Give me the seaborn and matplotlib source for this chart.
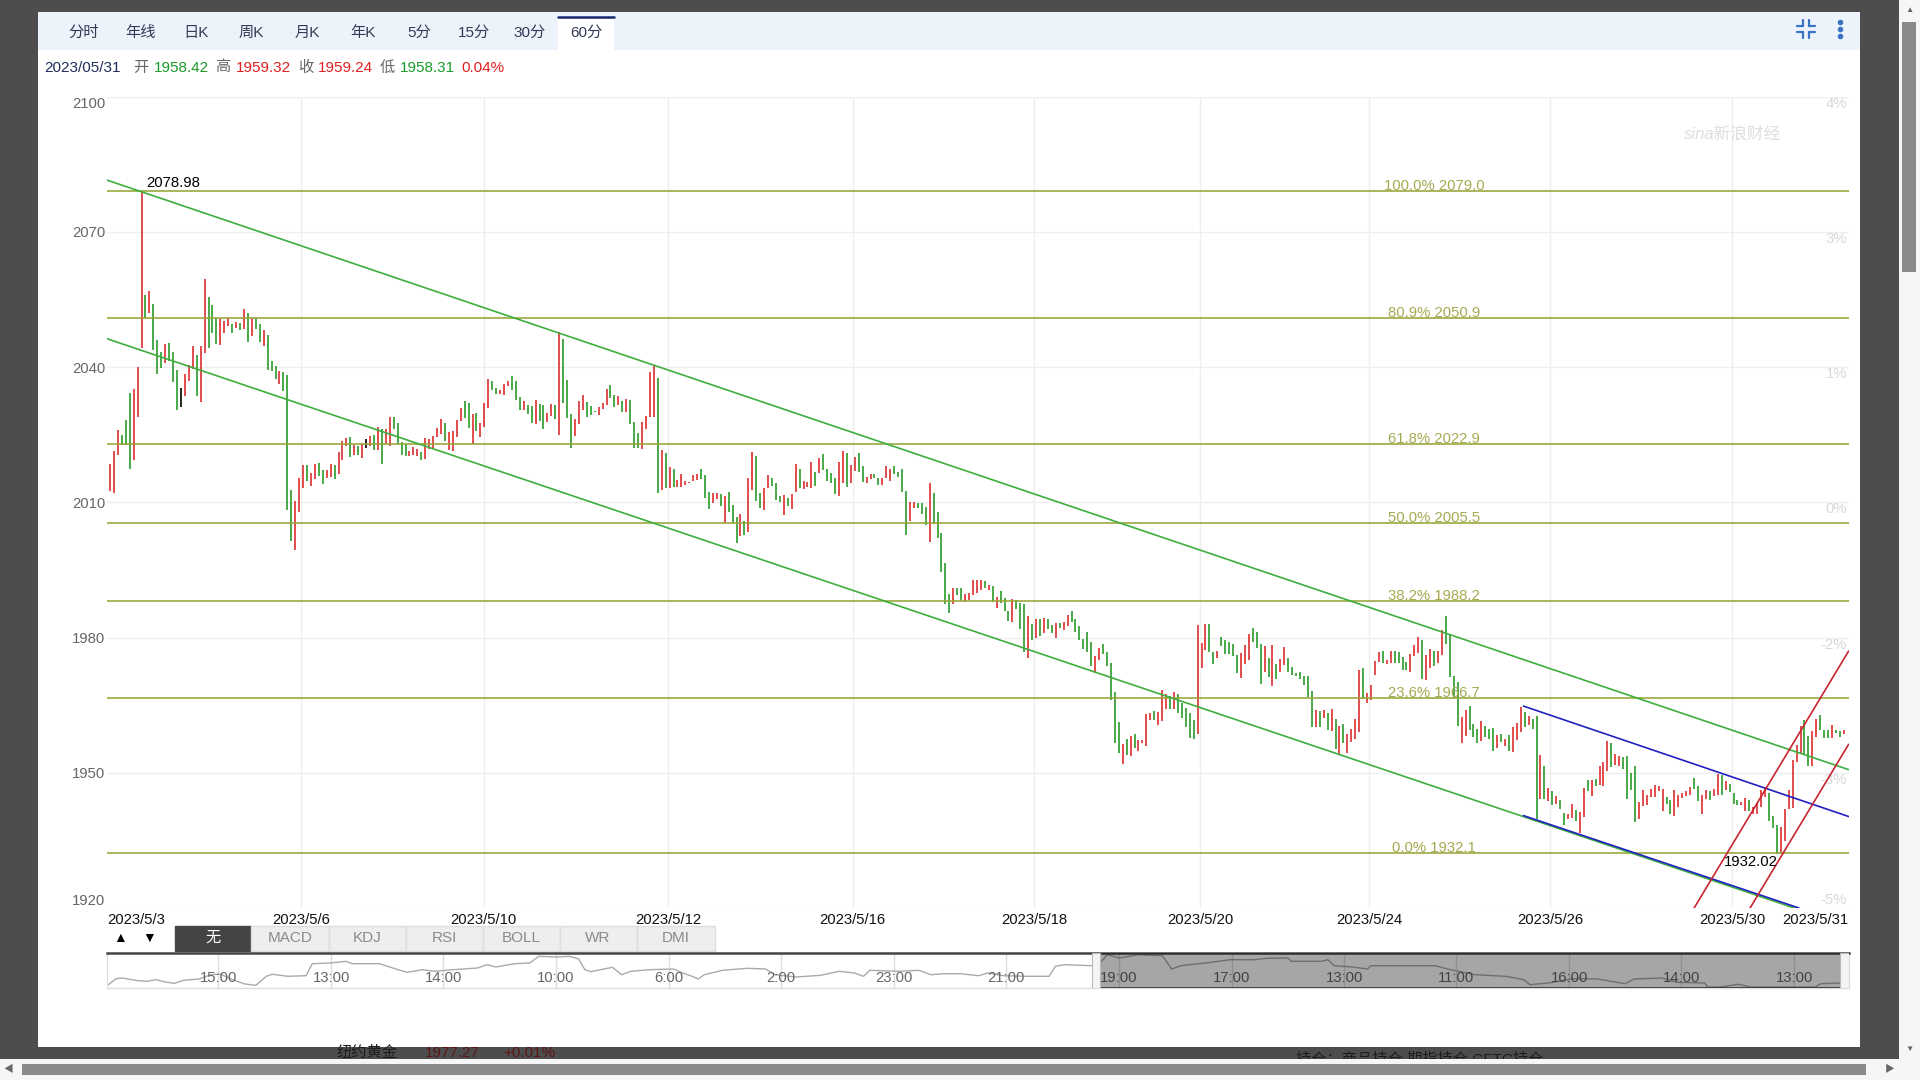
import matplotlib
matplotlib.use("Agg")
import matplotlib.pyplot as plt
from matplotlib.patches import Rectangle
import numpy as np
import pandas as pd
import seaborn as sns

# 60 min bars, r = up, g = down, k = flat
bar_high = [
    2018.5, 2021.5, 2026.1, 2025.0, 2028.2, 2034.3, 2035.2, 2040.0, 2079.0, 2056.0,
    2057.0, 2054.0, 2046.1, 2043.4, 2045.2, 2045.3, 2043.3, 2039.3, 2035.4, 2038.4,
    2040.5, 2044.7, 2042.8, 2044.6, 2059.5, 2055.6, 2053.7, 2050.8, 2050.6, 2050.2,
    2050.8, 2049.6, 2050.0, 2049.8, 2053.0, 2052.0, 2050.8, 2051.0, 2049.5, 2048.2,
    2047.2, 2041.3, 2040.2, 2039.1, 2038.9, 2038.2, 2012.8, 2010.2, 2015.3, 2018.3,
    2018.2, 2016.5, 2018.5, 2018.7, 2017.2, 2017.2, 2018.4, 2018.2, 2021.1, 2023.7,
    2024.3, 2024.5, 2022.8, 2022.6, 2023.0, 2024.1, 2024.8, 2025.0, 2026.7, 2026.3,
    2026.3, 2029.0, 2029.0, 2027.6, 2023.3, 2023.0,
    2021.3, 2022.2, 2021.8, 2021.2, 2024.3, 2024.1, 2024.8, 2026.5, 2028.5, 2027.6,
    2025.6, 2025.9, 2028.3, 2031.0, 2032.4, 2032.0, 2029.6, 2029.8, 2027.5, 2032.1,
    2037.4, 2036.9, 2035.4, 2035.0, 2036.3, 2037.0, 2038.0, 2037.0, 2033.3, 2032.4,
    2031.5, 2031.4, 2032.6, 2031.8, 2031.7, 2029.8, 2031.8, 2031.5, 2047.8, 2046.3,
    2037.2, 2029.6, 2028.5, 2032.4, 2033.8, 2032.3, 2031.4, 2030.2, 2031.2, 2032.0,
    2035.2, 2036.1, 2033.9, 2033.5, 2032.4, 2033.0, 2032.6, 2027.9, 2025.4, 2027.9,
    2029.2, 2038.9, 2040.4, 2037.5, 2021.7, 2020.9, 2017.9, 2017.3, 2015.0, 2016.3,
    2014.8, 2014.5, 2016.1, 2016.3,
    2017.4, 2016.1, 2012.4, 2012.1, 2012.1, 2011.8, 2011.3, 2012.3, 2009.5, 2006.8,
    2007.4, 2005.9, 2015.5, 2021.2, 2020.2, 2012.0, 2013.2, 2016.1, 2015.4, 2014.3,
    2011.3, 2011.7, 2010.9, 2011.8, 2018.6, 2017.5, 2014.7, 2014.5, 2018.9, 2016.7,
    2019.8, 2020.7, 2017.4, 2016.6, 2015.5, 2019.0, 2021.5, 2020.9, 2018.3, 2020.0,
    2020.9, 2018.1, 2015.7, 2016.3, 2016.4, 2015.5, 2015.4, 2018.1, 2017.3, 2018.0,
    2016.8, 2017.3, 2012.6, 2010.1, 2010.1, 2009.8, 2009.8, 2008.9, 2014.3, 2012.1,
    2007.8, 2003.3, 1996.6, 1989.6, 1990.9, 1990.9, 1990.9, 1989.6, 1989.8, 1992.7,
    1992.7, 1992.7, 1992.6, 1991.7, 1991.5, 1989.1,
    1990.4, 1988.7, 1985.9, 1988.6, 1988.3, 1987.6, 1987.4, 1984.8, 1983.0, 1984.1,
    1984.1, 1984.3, 1984.1, 1982.7, 1983.3, 1983.3, 1983.5, 1985.0, 1985.8, 1984.1,
    1982.6, 1979.6, 1981.2, 1979.0, 1975.8, 1977.7, 1978.5, 1976.7, 1974.4, 1967.9,
    1961.3, 1956.3, 1957.5, 1958.1, 1958.5, 1957.2, 1957.2, 1963.0, 1963.2, 1963.7,
    1963.5, 1968.3, 1967.5, 1967.0, 1967.9, 1967.5, 1965.5, 1964.3, 1963.2, 1961.6,
    1982.7, 1978.9, 1982.9, 1982.9, 1976.8, 1977.0, 1980.1, 1979.5, 1979.0, 1978.5,
    1976.1, 1976.5, 1978.3, 1980.7, 1982.2, 1981.2, 1978.5, 1978.2, 1975.5, 1978.3,
    1974.2, 1975.2, 1977.8, 1975.5, 1973.5, 1972.1,
    1972.3, 1971.4, 1971.5, 1968.1, 1963.9, 1963.8, 1964.0, 1963.2, 1964.2, 1962.0,
    1960.4, 1960.9, 1958.7, 1959.7, 1962.0, 1972.7, 1973.2, 1967.6, 1969.5, 1974.8,
    1976.8, 1977.0, 1975.0, 1977.0, 1977.0, 1976.7, 1975.7, 1974.6, 1976.3, 1978.4,
    1980.2, 1979.5, 1976.1, 1977.4, 1977.0, 1977.0, 1981.6, 1984.8, 1980.7, 1971.5,
    1970.1, 1962.4, 1963.9, 1964.8, 1960.9, 1959.7, 1961.5, 1960.4, 1959.8, 1960.0,
    1958.3, 1958.5, 1957.6, 1958.3, 1960.1, 1961.1, 1964.6, 1963.5, 1962.6, 1962.0,
    1962.7,
    1953.9, 1951.5, 1946.7, 1945.9, 1944.8, 1944.0, 1941.1, 1940.9, 1943.0, 1941.7,
    1941.4, 1946.7, 1948.5, 1948.5, 1948.7, 1951.5, 1952.4, 1957.1, 1956.5, 1954.1,
    1953.7, 1953.5, 1953.7, 1950.0, 1951.6, 1943.5, 1946.2, 1945.1, 1946.5, 1947.4,
    1947.1, 1946.5, 1944.6, 1943.9, 1946.1, 1945.1, 1945.6, 1945.9, 1946.8, 1948.8,
    1947.1, 1945.1, 1946.2, 1945.9, 1946.5, 1949.7, 1949.4, 1948.1, 1947.5, 1945.5,
    1943.9, 1943.5, 1944.5, 1944.0, 1942.4, 1943.3, 1946.1, 1946.8, 1945.6, 1940.5,
    1938.5, 1938.0, 1942.0, 1946.2, 1952.8, 1956.1, 1960.3, 1961.7, 1958.1, 1959.2,
    1962.0, 1962.8, 1959.4, 1959.6, 1960.5, 1959.6, 1959.3, 1959.4,
]
bar_low = [
    2012.5, 2012.1, 2020.5, 2022.8, 2022.8, 2017.4, 2019.3, 2028.9, 2044.2, 2050.8,
    2052.0, 2043.9, 2038.5, 2039.8, 2040.9, 2041.3, 2036.7, 2030.5, 2031.1, 2033.7,
    2037.0, 2039.6, 2033.7, 2032.2, 2043.2, 2044.2, 2047.6, 2045.2, 2045.0, 2047.6,
    2049.1, 2047.6, 2048.7, 2048.2, 2048.4, 2045.6, 2046.8, 2048.4, 2045.6, 2044.6,
    2039.3, 2039.1, 2037.3, 2036.2, 2034.7, 2008.2, 2001.5, 1999.5, 2007.9, 2013.1,
    2014.8, 2013.6, 2015.2, 2015.8, 2014.1, 2015.3, 2015.7, 2015.2, 2016.2, 2019.4,
    2022.6, 2020.0, 2020.4, 2020.6, 2019.9, 2022.1, 2022.5, 2021.6, 2021.7, 2018.4,
    2023.0, 2022.6, 2026.3, 2023.0, 2020.6, 2020.2,
    2020.2, 2020.5, 2020.2, 2019.5, 2019.7, 2021.8, 2022.0, 2024.4, 2025.2, 2023.7,
    2021.7, 2021.5, 2024.6, 2028.0, 2028.7, 2026.5, 2023.0, 2025.8, 2024.4, 2026.8,
    2030.9, 2035.0, 2034.1, 2034.1, 2033.9, 2035.8, 2035.0, 2032.7, 2030.4, 2030.6,
    2029.6, 2027.7, 2027.4, 2028.0, 2026.2, 2027.9, 2029.2, 2028.4, 2025.0, 2032.0,
    2028.7, 2022.0, 2024.7, 2027.3, 2030.6, 2029.0, 2029.3, 2030.0, 2029.3, 2030.7,
    2031.5, 2033.2, 2031.2, 2031.7, 2030.0, 2030.0, 2027.3, 2022.0, 2022.0, 2021.8,
    2026.3, 2028.9, 2028.9, 2012.1, 2012.8, 2013.2, 2013.1, 2013.5, 2013.3, 2013.5,
    2013.8, 2014.3, 2014.7, 2015.0,
    2015.2, 2010.9, 2008.6, 2009.8, 2010.7, 2009.2, 2005.5, 2007.9, 2005.5, 2000.9,
    2002.6, 2002.7, 2003.5, 2012.7, 2010.2, 2008.7, 2008.3, 2013.2, 2013.7, 2010.6,
    2010.1, 2007.1, 2009.2, 2008.6, 2012.2, 2013.1, 2013.0, 2013.3, 2013.2, 2013.7,
    2016.6, 2017.2, 2014.8, 2014.2, 2011.8, 2011.3, 2014.4, 2013.5, 2014.2, 2017.0,
    2016.8, 2014.6, 2014.2, 2015.2, 2015.5, 2013.8, 2013.9, 2015.3, 2014.8, 2016.4,
    2015.7, 2012.4, 2002.8, 2005.9, 2008.7, 2008.7, 2007.5, 2004.9, 2001.3, 2005.3,
    2002.1, 1994.6, 1987.4, 1985.4, 1987.5, 1989.5, 1988.1, 1987.8, 1988.4, 1989.5,
    1989.8, 1990.6, 1991.1, 1990.5, 1987.8, 1986.5,
    1987.6, 1985.8, 1983.7, 1983.5, 1986.3, 1981.9, 1976.7, 1975.4, 1979.5, 1980.0,
    1980.4, 1981.0, 1982.0, 1981.1, 1979.8, 1982.2, 1981.7, 1982.6, 1983.5, 1981.2,
    1979.4, 1977.4, 1976.7, 1973.8, 1972.1, 1975.0, 1976.4, 1973.7, 1966.1, 1956.6,
    1954.4, 1952.0, 1953.9, 1953.8, 1955.4, 1954.8, 1956.7, 1955.9, 1961.8, 1961.7,
    1960.5, 1961.5, 1964.1, 1964.1, 1964.2, 1963.2, 1962.2, 1960.1, 1957.8, 1957.4,
    1958.5, 1973.2, 1977.2, 1976.7, 1974.2, 1975.4, 1978.1, 1976.4, 1976.4, 1975.8,
    1972.2, 1971.0, 1974.2, 1975.0, 1979.0, 1977.6, 1969.8, 1972.4, 1971.3, 1969.2,
    1970.7, 1972.4, 1973.9, 1972.4, 1971.7, 1971.4,
    1970.9, 1969.5, 1966.9, 1960.1, 1960.1, 1960.2, 1962.1, 1959.4, 1959.2, 1955.2,
    1954.1, 1956.5, 1954.3, 1956.9, 1957.5, 1959.1, 1966.3, 1965.4, 1966.1, 1971.6,
    1974.6, 1974.3, 1974.2, 1974.3, 1974.4, 1974.4, 1972.7, 1972.7, 1972.4, 1975.9,
    1976.6, 1970.9, 1970.5, 1973.3, 1973.7, 1974.3, 1976.1, 1978.6, 1971.3, 1966.5,
    1960.3, 1956.5, 1958.1, 1959.4, 1958.0, 1956.5, 1957.0, 1957.9, 1957.4, 1954.8,
    1955.4, 1956.8, 1956.0, 1954.8, 1954.6, 1957.2, 1959.0, 1960.1, 1960.7, 1959.8,
    1939.7,
    1944.2, 1944.1, 1943.7, 1942.9, 1943.0, 1942.0, 1938.5, 1939.7, 1940.0, 1939.3,
    1936.7, 1940.2, 1945.9, 1944.8, 1947.0, 1947.2, 1947.0, 1950.4, 1951.3, 1951.7,
    1951.5, 1950.9, 1944.2, 1946.1, 1939.1, 1939.7, 1942.6, 1942.9, 1944.6, 1944.6,
    1946.0, 1941.5, 1943.1, 1940.9, 1940.4, 1942.5, 1944.5, 1944.8, 1945.0, 1946.3,
    1943.7, 1940.8, 1944.2, 1944.0, 1944.8, 1945.1, 1945.1, 1946.2, 1945.7, 1943.0,
    1942.9, 1942.8, 1941.5, 1941.5, 1940.9, 1940.9, 1942.4, 1944.6, 1939.3, 1937.7,
    1932.0, 1932.0, 1934.8, 1942.0, 1942.2, 1952.4, 1954.2, 1954.2, 1951.5, 1951.5,
    1958.0, 1959.6, 1957.7, 1957.7, 1957.8, 1958.8, 1958.0, 1958.5,
]
bar_dir = (
    "rrrgggrrrg" "rgggrgggkr" "rrgrrgggrr" "rgrgrgrggr" "gggrgggrrr" "grrggrrgrr" "rgrgrkrgrg" "rrgggg"
    "rrrgrrrrrg" "rrrrggrgrr" "rggrrrgggr" "ggrggrrgrg" "ggrrrgggrr" "rggrgrgggr" "rrrgrgrgrr" "rrrr"
    "gggrrgrggg" "rgrrggrrgg" "grgrrgrrrg" "rggggrrgrr" "ggrrggrrrg" "gggrrgggrg" "ggggrggrrr" "rrgrgr"
    "gggrgggrgr" "grggrgrrgg" "ggggrrgggg" "grgrgrrrrg" "rrrgrggggg" "rrrggrgggg" "grrrgggrgr" "grrggg"
    "ggggrgrgrg" "rgrrrrgrrr" "rgrrggggrr" "rgrrgrrggg" "grrgggrggg" "rgrgrrrgrgg"
    "rgrgrggrrg" "rrgrgrrrgr" "rggggrrrrr" "rrggrrrrrg" "grrgrrgrgg" "grrgrrrrgg" "grrrrrrggr" "rgggrggr"
)

price_ticks = [2100, 2070, 2040, 2010, 1980, 1950, 1920]
pct_labels = ["4%", "3%", "1%", "0%", "-2%", "-3%", "-5%"]
date_pos = [-0.76, 48.5, 94.8, 141.7, 188.5, 234.5, 276.6, 319.6, 365.4, 411.6, 441.2]
date_labels = ["2023/5/3", "2023/5/6", "2023/5/10", "2023/5/12", "2023/5/16", "2023/5/18",
               "2023/5/20", "2023/5/24", "2023/5/26", "2023/5/30", "2023/5/31"]

fib_level = [2079.0, 2050.9, 2022.9, 2005.5, 1988.2, 1966.7, 1932.1]
fib_pct = ["100.0%", "80.9%", "61.8%", "50.0%", "38.2%", "23.6%", "0.0%"]

# channel lines: bar position / price at each end
green_up_x, green_up_y = [-0.76, 441.2], [2081.5, 1950.7]
green_lo_x, green_lo_y = [-0.76, 427.4], [2046.3, 1920.0]
blue_up_x, blue_up_y = [358.7, 441.2], [1964.8, 1940.3]
blue_lo_x, blue_lo_y = [358.7, 428.6], [1940.5, 1920.0]
red_up_x, red_up_y = [402.0, 441.2], [1920.0, 1977.0]
red_lo_x, red_lo_y = [416.2, 441.2], [1920.0, 1956.3]

# navigator strip under the chart
nav_x = [175, 190, 200, 225, 240, 255, 270, 285, 300, 325, 345, 360, 380, 400, 418, 435, 445, 470, 500, 510,
         540, 565, 575, 600, 620, 650, 665, 690, 710, 740, 780, 795, 810, 840, 865, 880, 910, 930, 945, 955,
         965, 1000, 1015, 1030, 1060, 1100, 1115, 1130, 1140, 1150, 1180, 1220, 1250, 1265, 1300, 1340, 1370,
         1395, 1410, 1420, 1470, 1500, 1520, 1540, 1568,
         1598, 1613, 1638, 1678, 1713, 1723, 1738, 1783, 1796, 1808, 1828, 1858, 1898, 1913, 1928, 1978, 2008,
         2048, 2068, 2103, 2108, 2158, 2168, 2178, 2208, 2233, 2238, 2288, 2343, 2368, 2408, 2458, 2488, 2498,
         2528, 2568, 2608, 2653, 2668, 2713, 2738, 2783, 2788, 2808, 2838, 2858, 2928, 2963, 2973, 3004]
nav_y = [2.3, 9.3, 10, 7.3, 6.7, 8.3, 6, 4.7, 7.7, 9, 13.3, 14, 8.3, 4, 2.7, 11.7, 13.7, 11.7, 12.3, 24.3,
         25, 26.7, 24.3, 24.3, 24.3, 18.3, 15.7, 18.3, 16.7, 18.3, 20, 23.3, 21, 24.3, 25, 31.7, 31, 31.7, 29, 18.3,
         16.3, 20.7, 13.3, 16.7, 18.3, 19, 15, 11.7, 9, 13.3, 17.7, 19.7, 19, 13.3, 11, 12.7, 16.7,
         15, 11.7, 17.7, 16.7, 17.7, 13.3, 14.3, 14.3,
         12.3, 15, 12.3, 11.7, 11.7, 21.7, 23.3, 22.3, 25, 33.3, 30, 33.3, 32.3, 19, 22.3, 25.7, 28.3,
         28.3, 29.7, 30, 26.7, 26.7, 28.3, 22.3, 21, 19, 22.3, 22.3, 22.3, 18.3, 13.3, 11.7, 8.3, 3.3,
         5, 9.3, 9, 4.3, 9, 10, 5.7, 5, 1, 1, 3.7, 1, 1, 1, 4.3, 5]
nav_tick_pos = [357, 541, 724, 908, 1092, 1275, 1459, 1642, 1827, 2011, 2195, 2377, 2562, 2745, 2929]
nav_tick_labels = ["15:00", "13:00", "14:00", "10:00", "6:00", "2:00", "23:00", "21:00",
                   "19:00", "17:00", "13:00", "11:00", "16:00", "14:00", "13:00"]

tab_names = ["分时", "年线", "日K", "周K", "月K", "年K", "5分", "15分", "30分", "60分"]
tab_cx = [84, 140, 196, 251, 307, 363, 419, 474, 530, 586]
ind_names = ["MACD", "KDJ", "RSI", "BOLL", "WR", "DMI"]

INK_RED = "#dc2f2f"
INK_GREEN = "#2a9a2a"
OLIVE = "#98a436"

sns.set_theme(style="white")
plt.rcParams['font.family'] = ['Liberation Sans', 'Noto Sans CJK SC', 'DejaVu Sans']

fig = plt.figure(figsize=(19.2, 10.8), dpi=100, facecolor="#4d4d4d")


def px_axes(x0, y0, x1, y1):
    return fig.add_axes([x0 / 1920, 1 - y1 / 1080, (x1 - x0) / 1920, (y1 - y0) / 1080])


# page furniture, in pixels
bg = fig.add_axes([0, 0, 1, 1])
bg.set_xlim(0, 1920)
bg.set_ylim(1080, 0)
bg.axis("off")


def box(x0, y0, x1, y1, **kw):
    bg.add_patch(Rectangle((x0, y0), x1 - x0, y1 - y0, **kw))


# page text showing behind the overlay
bg.text(367, 1053, "纽约黄金", color="#1c1c1c", fontsize=11, ha="center", va="center")
bg.text(452, 1053, "1977.27", color="#5c1616", fontsize=11, ha="center", va="center")
bg.text(529, 1053, "+0.01%", color="#5c1616", fontsize=11, ha="center", va="center")
bg.text(1420, 1060, "持仓：商品持仓 期指持仓 CFTC持仓", color="#1c1c1c", fontsize=11, ha="center", va="center")

box(38, 12, 1860, 1047, fc="white", ec="none", zorder=2)
box(38, 12, 1860, 50, fc="#edf3fb", ec="none", zorder=2)
box(558, 16, 614, 50, fc="white", ec="none", zorder=2)
bg.plot([558, 614], [17, 17], color="#14286e", lw=1.8, zorder=3)
for name, cx in zip(tab_names, tab_cx):
    bg.text(cx, 33, name, color="#333a55", fontsize=11, ha="center", va="center", zorder=4)

# collapse icon and menu dots
for sx, sy in [(-1, -1), (1, -1), (-1, 1), (1, 1)]:
    cx, cy = 1806 + 3 * sx, 29 + 3 * sy
    bg.plot([cx, cx + 6 * sx, ], [cy, cy], color="#3a72c4", lw=1.6, zorder=4)
    bg.plot([cx, cx], [cy, cy + 6 * sy], color="#3a72c4", lw=1.6, zorder=4)
bg.scatter([1840, 1840, 1840], [22, 29, 36], s=9, color="#3a72c4", zorder=4)

# OHLC readout
readout = [(44.5, "2023/05/31", "#1f2d5c"), (133, "开", "#666666"), (154, "1958.42", "#1a9a2a"),
           (215, "高", "#666666"), (236, "1959.32", "#e02020"), (298, "收", "#666666"),
           (318, "1959.24", "#e02020"), (380, "低", "#666666"), (400, "1958.31", "#1a9a2a"),
           (461, "0.04%", "#e02020")]
for x, txt, col in readout:
    bg.text(x, 67.5, txt, color=col, fontsize=11, ha="left", va="center", zorder=4)

# indicator buttons
bg.text(120, 938, "▲", color="black", fontsize=10, ha="center", va="center", zorder=4)
bg.text(149, 938, "▼", color="black", fontsize=10, ha="center", va="center", zorder=4)
box(174.5, 926, 251, 951, fc="#444444", ec="#444444", zorder=3)
bg.text(213, 938, "无", color="white", fontsize=11, ha="center", va="center", zorder=4)
edges = [251, 329, 405.5, 482.5, 559.5, 636.5, 714.5]
for i, name in enumerate(ind_names):
    box(edges[i], 926, edges[i + 1], 951, fc="#eeeeee", ec="#dddddd", lw=1, zorder=3)
    bg.text((edges[i] + edges[i + 1]) / 2, 938, name, color="#8a8a8a", fontsize=11,
            ha="center", va="center", zorder=4)

# browser scrollbars
box(1899, 0, 1920, 1080, fc="#f6f6f6", ec="none", zorder=5)
box(0, 1059, 1920, 1080, fc="#f6f6f6", ec="none", zorder=5)
box(1902, 22, 1916, 272, fc="#8a8a8a", ec="none", zorder=6)
box(22, 1064, 1866, 1075, fc="#8a8a8a", ec="none", zorder=6)
bg.text(1909, 10, "▲", color="#666666", fontsize=6, ha="center", va="center", zorder=6)
bg.text(1909, 1049, "▼", color="#666666", fontsize=6, ha="center", va="center", zorder=6)
bg.text(8, 1069, "◀", color="#666666", fontsize=7, ha="center", va="center", zorder=6)
bg.text(1890, 1069, "▶", color="#666666", fontsize=7, ha="center", va="center", zorder=6)

# main chart
ax = px_axes(107, 96.7, 1848.6, 908)
ax.patch.set_alpha(0)

ax.text(0.9336, 0.955, "sina新浪财经", transform=ax.transAxes, color="#dedede", fontsize=12,
        style="italic", ha="center", va="center", zorder=1)

bars = pd.DataFrame({
    "bar": np.repeat(np.arange(len(bar_high)), 2),
    "price": np.ravel(np.column_stack([bar_low, bar_high])),
    "dir": np.repeat(list(bar_dir), 2),
})
sns.lineplot(data=bars, x="bar", y="price", units="bar", hue="dir", estimator=None,
             palette={"r": INK_RED, "g": INK_GREEN, "k": "black"}, lw=1.2, legend=False,
             solid_capstyle="butt", ax=ax, zorder=3)

for level, pct in zip(fib_level, fib_pct):
    ax.axhline(level, color=OLIVE, lw=1.15, zorder=4)
    ax.annotate(f"{pct} {level:.1f}", xy=(336, level), xytext=(0, 3.6), textcoords="offset points",
                color="#a6aa52", fontsize=10.7, ha="center", va="center", zorder=5)

for xs, ys, col in [(green_up_x, green_up_y, "#3fae3f"), (green_lo_x, green_lo_y, "#3fae3f"),
                    (blue_lo_x, blue_lo_y, "#2020c0"), (blue_up_x, blue_up_y, "#2020c0"),
                    (red_up_x, red_up_y, "#c9252f"), (red_lo_x, red_lo_y, "#c9252f")]:
    sns.lineplot(x=xs, y=ys, color=col, lw=1.2, estimator=None, ax=ax, zorder=6)

ax.annotate("2078.98", xy=(16, 2079.0), xytext=(0, 6.3), textcoords="offset points", color="black",
            fontsize=10.7, ha="center", va="center", zorder=7)
ax.annotate("1932.02", xy=(416.5, 1932.1), xytext=(0, -5.8), textcoords="offset points", color="black",
            fontsize=10.7, ha="center", va="center", zorder=7)

ax.set_xlim(-0.76, 441.2)
ax.set_ylim(1920, 2100)
ax.set_yticks(price_ticks)
ax.set_yticklabels(price_ticks, color="#666666", fontsize=10.7)
ax.set_xticks(date_pos)
ax.set_xticklabels(date_labels, color="#111111", fontsize=10.7)
ax.set_xlabel("")
ax.set_ylabel("")
ax.tick_params(axis="x", length=0, pad=3.7)
ax.tick_params(axis="y", length=0, pad=1)
ax.grid(True, color="#eeeeee", lw=1)
ax.set_axisbelow(True)
ax.get_yticklabels()[0].set_va("top")
ax.get_yticklabels()[-1].set_va("bottom")
ax.get_xticklabels()[0].set_ha("left")
ax.get_xticklabels()[-1].set_ha("right")
ax.get_xgridlines()[0].set_visible(False)
ax.get_xgridlines()[-1].set_visible(False)
sns.despine(ax=ax, left=True, bottom=True)

for tick, label in zip(price_ticks, pct_labels):
    # lowest label sits above its grid line, the others below
    shift = 5.4 if tick == price_ticks[-1] else -5.0
    ax.annotate(label, xy=(1, tick), xycoords=ax.get_yaxis_transform(), xytext=(-1, shift),
                textcoords="offset points", color="#d8d8d8", fontsize=10.7, ha="right", va="center",
                annotation_clip=False, zorder=2)

# navigator
nav = px_axes(107, 953, 1848.6, 988)
nav.patch.set_alpha(0)
sns.lineplot(x=nav_x, y=nav_y, color="#aaaaaa", lw=1, estimator=None, ax=nav)
for pos, txt in zip(nav_tick_pos, nav_tick_labels):
    nav.axvline(pos, color="#dddddd", lw=1, zorder=1)
    nav.text(pos, 10.3, txt, color="#666666", fontsize=10.7, ha="center", va="center", zorder=3)
nav.set_xlim(175, 3018)
nav.set_ylim(0, 35)
nav.set_xticks([])
nav.set_yticks([])
for side in ["left", "right"]:
    nav.spines[side].set_visible(True)
    nav.spines[side].set_color("#dddddd")
    nav.spines[side].set_linewidth(0.8)
nav.spines["top"].set_visible(True)
nav.spines["bottom"].set_visible(True)
nav.spines["top"].set_color("#444444")
nav.spines["top"].set_linewidth(1.8)
nav.spines["bottom"].set_color("#dddddd")
nav.spines["bottom"].set_linewidth(1)
# selected window
nav.axvspan(1796, 3004, color="black", alpha=0.35, lw=0, zorder=4)
nav.plot([1796, 3004], [0.3, 0.3], color="#444444", lw=1.4, zorder=5)
nav.axvspan(1783, 1796, fc="#f4f4f4", ec="#bbbbbb", lw=0.8, zorder=5)
nav.axvspan(3004, 3018, fc="#f4f4f4", ec="#bbbbbb", lw=0.8, zorder=5)

fig.savefig("out.png", dpi=100, facecolor=fig.get_facecolor())
